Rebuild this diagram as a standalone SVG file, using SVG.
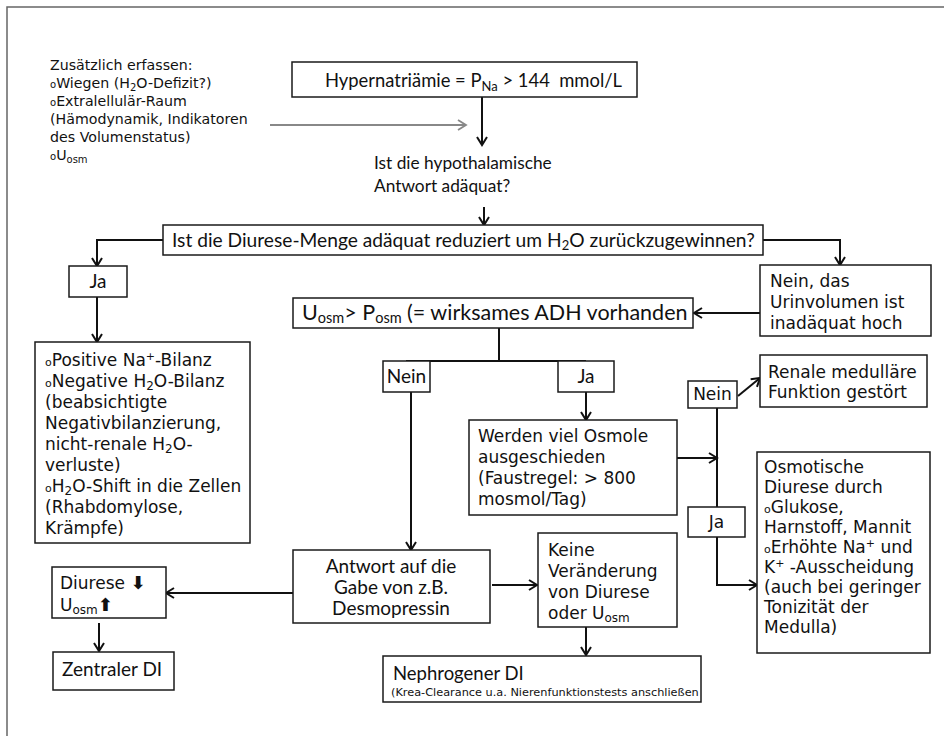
<svg xmlns="http://www.w3.org/2000/svg" width="944" height="736" viewBox="0 0 944 736">
<style>
.box{fill:#fff;stroke:#1a1a1a;stroke-width:1.5}
.a{font-family:Lato,"Liberation Sans",Arial,sans-serif;fill:#111}
.b{font-family:"DejaVu Sans","Liberation Sans",Arial,sans-serif;fill:#111}
.c{stroke:#111;stroke-width:2;fill:none}
.g{stroke:#888;stroke-width:2;fill:none}
.mid{text-anchor:middle}
</style>
<defs>
<marker id="ah" viewBox="0 0 12 12" refX="10" refY="6" markerWidth="12" markerHeight="12" markerUnits="userSpaceOnUse" orient="auto">
<path d="M2,1 L10,6 L2,11" fill="none" stroke="#111" stroke-width="2"/>
</marker>
<marker id="ahg" viewBox="0 0 12 12" refX="10" refY="6" markerWidth="12" markerHeight="12" markerUnits="userSpaceOnUse" orient="auto">
<path d="M2,1 L10,6 L2,11" fill="none" stroke="#888" stroke-width="1.8"/>
</marker>
</defs>
<rect x="0" y="0" width="944" height="736" fill="#fff"/>
<rect x="7" y="7" width="960" height="760" fill="none" stroke="#666" stroke-width="1.5"/>

<g id="connectors">
<line class="g" x1="270" y1="125" x2="466" y2="125" marker-end="url(#ahg)"/>
<line class="c" x1="482" y1="97" x2="482" y2="145" marker-end="url(#ah)"/>
<line class="c" x1="484" y1="207" x2="484" y2="225" marker-end="url(#ah)"/>
<polyline class="c" points="163,240 97,240 97,266" marker-end="url(#ah)"/>
<line class="c" x1="97" y1="297" x2="97" y2="342" marker-end="url(#ah)"/>
<polyline class="c" points="763,240 840,240 840,265" marker-end="url(#ah)"/>
<line class="c" x1="760" y1="313" x2="694" y2="313" marker-end="url(#ah)"/>
<line class="c" x1="499" y1="328" x2="499" y2="361"/>
<line class="c" x1="406" y1="361" x2="586" y2="361"/>
<line class="c" x1="586" y1="392" x2="586" y2="420" marker-end="url(#ah)"/>
<line class="c" x1="411" y1="392" x2="411" y2="550" marker-end="url(#ah)"/>
<line class="c" x1="677" y1="458" x2="717" y2="458" marker-end="url(#ah)"/>
<line class="c" x1="717" y1="408" x2="717" y2="507"/>
<polyline class="c" points="717,537 717,585 757,585" marker-end="url(#ah)"/>
<line class="c" x1="738" y1="396" x2="760" y2="378" marker-end="url(#ah)"/>
<line class="c" x1="293" y1="593" x2="166" y2="593" marker-end="url(#ah)"/>
<line class="c" x1="99" y1="623" x2="99" y2="651" marker-end="url(#ah)"/>
<line class="c" x1="492" y1="585" x2="537" y2="585" marker-end="url(#ah)"/>
<line class="c" x1="586" y1="627" x2="586" y2="655" marker-end="url(#ah)"/>
</g>

<g id="notes" class="b" font-size="14.2">
<text x="50" y="70">Zusätzlich erfassen:</text>
<text x="50" y="88"><tspan font-size="10">o</tspan>Wiegen (H<tspan font-size="10" dy="3">2</tspan><tspan dy="-3">O-Defizit?)</tspan></text>
<text x="50" y="106"><tspan font-size="10">o</tspan>Extralellulär-Raum</text>
<text x="50" y="124">(Hämodynamik, Indikatoren</text>
<text x="50" y="142">des Volumenstatus)</text>
<text x="50" y="160"><tspan font-size="10">o</tspan>U<tspan font-size="10" dy="3">osm</tspan></text>
</g>

<g id="hyper">
<rect class="box" x="292" y="62" width="345" height="35"/>
<text class="a" x="325" y="87" font-size="18.4">Hypernatriämie = P<tspan font-size="13" dy="4">Na</tspan><tspan dy="-4"> &gt; 144 &#160;mmol/L</tspan></text>
</g>

<g id="hypothal" class="a" font-size="17.3">
<text x="374" y="169">Ist die hypothalamische</text>
<text x="374" y="192">Antwort adäquat?</text>
</g>

<g id="diurese-frage">
<rect class="box" x="163" y="225" width="600" height="30"/>
<text class="a" x="172" y="247" font-size="19.2">Ist die Diurese-Menge adäquat reduziert um H<tspan font-size="13" dy="3">2</tspan><tspan dy="-3">O zurückzugewinnen?</tspan></text>
</g>

<g id="ja1">
<rect class="box" x="69" y="266" width="58" height="31"/>
<text class="a mid" x="98" y="288" font-size="19">Ja</text>
</g>

<g id="bilanz" class="b" font-size="17">
<rect class="box" x="35" y="342" width="215" height="201"/>
<text x="45" y="366"><tspan font-size="11">o</tspan>Positive Na<tspan font-size="11" dy="-6">+</tspan><tspan dy="6">-Bilanz</tspan></text>
<text x="45" y="387"><tspan font-size="11">o</tspan>Negative H<tspan font-size="12" dy="3">2</tspan><tspan dy="-3">O-Bilanz</tspan></text>
<text x="45" y="408">(beabsichtigte</text>
<text x="45" y="429">Negativbilanzierung,</text>
<text x="45" y="450">nicht-renale H<tspan font-size="12" dy="3">2</tspan><tspan dy="-3">O-</tspan></text>
<text x="45" y="471">verluste)</text>
<text x="45" y="492"><tspan font-size="11">o</tspan>H<tspan font-size="12" dy="3">2</tspan><tspan dy="-3">O-Shift in die Zellen</tspan></text>
<text x="45" y="513">(Rhabdomylose,</text>
<text x="45" y="534">Krämpfe)</text>
</g>

<g id="nein-hoch" class="b" font-size="17">
<rect class="box" x="760" y="265" width="171" height="71"/>
<text x="770" y="287">Nein, das</text>
<text x="770" y="308">Urinvolumen ist</text>
<text x="770" y="329">inadäquat hoch</text>
</g>

<g id="uosm">
<rect class="box" x="293" y="298" width="400" height="30"/>
<text class="a" x="302" y="320" font-size="21.5">U<tspan font-size="14.5" dy="3">osm</tspan><tspan dy="-3">&gt; P</tspan><tspan font-size="14.5" dy="3">osm</tspan><tspan dy="-3"> (= wirksames ADH vorhanden</tspan></text>
</g>

<g id="nein2">
<rect class="box" x="383" y="361" width="47" height="31"/>
<text class="a mid" x="406.5" y="383" font-size="19">Nein</text>
</g>

<g id="ja2">
<rect class="box" x="558" y="361" width="56" height="31"/>
<text class="a mid" x="586" y="383" font-size="19">Ja</text>
</g>

<g id="osmole" class="b" font-size="17">
<rect class="box" x="469" y="420" width="208" height="95"/>
<text x="478" y="442">Werden viel Osmole</text>
<text x="478" y="463">ausgeschieden</text>
<text x="478" y="484">(Faustregel: &gt; 800</text>
<text x="478" y="505">mosmol/Tag)</text>
</g>

<g id="nein3">
<rect class="box" x="688" y="381" width="49" height="27"/>
<text class="b mid" x="712.5" y="400" font-size="17">Nein</text>
</g>

<g id="renale" class="b" font-size="17">
<rect class="box" x="760" y="355" width="167" height="52"/>
<text x="768" y="378">Renale medulläre</text>
<text x="768" y="398">Funktion gestört</text>
</g>

<g id="ja3">
<rect class="box" x="688" y="507" width="57" height="30"/>
<text class="b mid" x="716.5" y="528" font-size="17">Ja</text>
</g>

<g id="osmotisch" class="b" font-size="17">
<rect class="box" x="757" y="452" width="173" height="201"/>
<text x="764" y="473">Osmotische</text>
<text x="764" y="493">Diurese durch</text>
<text x="764" y="513"><tspan font-size="11">o</tspan>Glukose,</text>
<text x="764" y="533">Harnstoff, Mannit</text>
<text x="764" y="553"><tspan font-size="11">o</tspan>Erhöhte Na<tspan font-size="11" dy="-6">+</tspan><tspan dy="6"> und</tspan></text>
<text x="764" y="573">K<tspan font-size="11" dy="-6">+</tspan><tspan dy="6"> -Ausscheidung</tspan></text>
<text x="764" y="593">(auch bei geringer</text>
<text x="764" y="613">Tonizität der</text>
<text x="764" y="633">Medulla)</text>
</g>

<g id="antwort" class="a" font-size="19">
<rect class="box" x="293" y="550" width="197" height="73"/>
<text class="mid" x="391" y="573">Antwort auf die</text>
<text class="mid" x="391" y="594">Gabe von z.B.</text>
<text class="mid" x="391" y="615">Desmopressin</text>
</g>

<g id="diurese-ab" class="b" font-size="17">
<rect class="box" x="52" y="567" width="114" height="51"/>
<text x="60" y="589">Diurese <tspan font-weight="bold" font-size="18">⬇</tspan></text>
<text x="60" y="611">U<tspan font-size="12" dy="3">osm</tspan><tspan dy="-3" font-weight="bold" font-size="18">⬆</tspan></text>
</g>

<g id="zentral">
<rect class="box" x="53" y="652" width="121" height="38"/>
<text class="a" x="62" y="676" font-size="19">Zentraler DI</text>
</g>

<g id="keine" class="b" font-size="17">
<rect class="box" x="538" y="533" width="139" height="94"/>
<text x="548" y="556">Keine</text>
<text x="548" y="577">Veränderung</text>
<text x="548" y="598">von Diurese</text>
<text x="548" y="619">oder U<tspan font-size="12" dy="3">osm</tspan></text>
</g>

<g id="nephro">
<rect class="box" x="383" y="656" width="318" height="46"/>
<text class="a" x="393" y="680" font-size="18.5">Nephrogener DI</text>
<text class="b" x="391" y="696" font-size="11.3">(Krea-Clearance u.a. Nierenfunktionstests anschließen</text>
</g>
</svg>
